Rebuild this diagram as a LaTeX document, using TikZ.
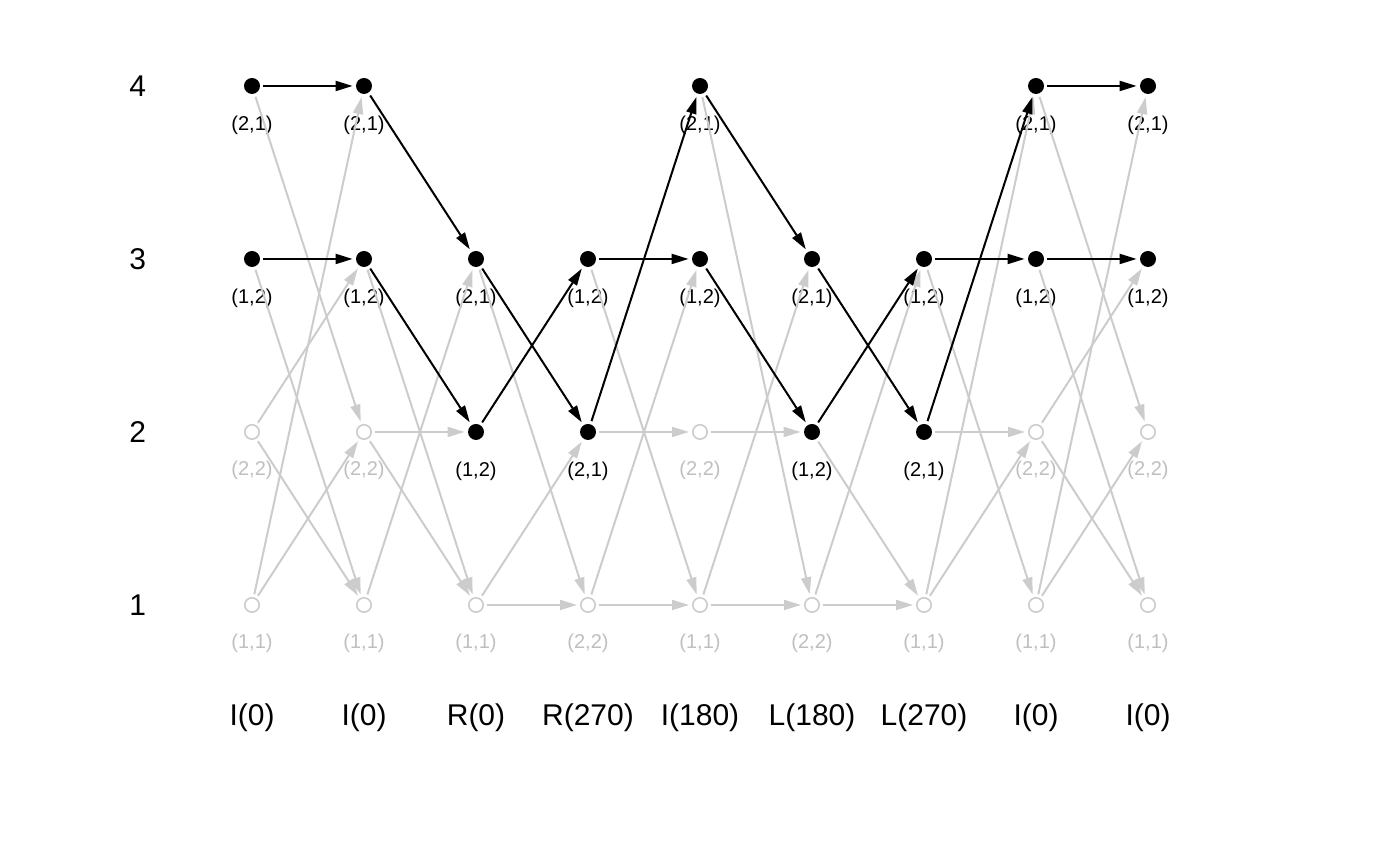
\documentclass[tikz,border=0pt]{standalone}
\usepackage{fontspec}
\setmainfont{Liberation Sans}
\usetikzlibrary{arrows.meta}

\begin{document}
\begin{tikzpicture}[x=56pt, y=86.5pt, >={Triangle[length=8.5pt,width=5pt]},
    on/.style={circle, fill=black, inner sep=0pt, minimum size=8pt,
      label={[lbl]below:{#1}}},
    off/.style={circle, draw=black!20, line width=0.8pt, inner sep=0pt, minimum size=7.2pt,
      label={[lbl, black!25]below:{#1}}},
    lbl/.style={font=\fontsize{10}{12}\selectfont, inner sep=0pt, label distance=10.5pt},
    big/.style={font=\fontsize{15}{18}\selectfont},
    aktiv/.style={->, line width=1pt, shorten <=1.5pt, shorten >=1.5pt},
    passiv/.style={->, black!20, line width=1pt, shorten <=1.5pt, shorten >=1.5pt}]
\useasboundingbox (-1.25,-0.5087) rectangle (11.25,4.497);
% Zeilen
\node[big] (y4) at (-0.02,4) {4};
\node[big] (y3) at (-0.02,3) {3};
\node[big] (y2) at (-0.02,2) {2};
\node[big] (y1) at (-0.02,1) {1};
% Spalte 1: I(0)
\node[on={(2,1)}] (c1r4) at (1,4) {};
\node[on={(1,2)}] (c1r3) at (1,3) {};
\node[off={(2,2)}] (c1r2) at (1,2) {};
\node[off={(1,1)}] (c1r1) at (1,1) {};
% Spalte 2: I(0)
\node[on={(2,1)}] (c2r4) at (2,4) {};
\node[on={(1,2)}] (c2r3) at (2,3) {};
\node[off={(2,2)}] (c2r2) at (2,2) {};
\node[off={(1,1)}] (c2r1) at (2,1) {};
% Spalte 3: R(0)
\node[on={(2,1)}] (c3r3) at (3,3) {};
\node[on={(1,2)}] (c3r2) at (3,2) {};
\node[off={(1,1)}] (c3r1) at (3,1) {};
% Spalte 4: R(270)
\node[on={(1,2)}] (c4r3) at (4,3) {};
\node[on={(2,1)}] (c4r2) at (4,2) {};
\node[off={(2,2)}] (c4r1) at (4,1) {};
% Spalte 5: I(180)
\node[on={(2,1)}] (c5r4) at (5,4) {};
\node[on={(1,2)}] (c5r3) at (5,3) {};
\node[off={(2,2)}] (c5r2) at (5,2) {};
\node[off={(1,1)}] (c5r1) at (5,1) {};
% Spalte 6: L(180)
\node[on={(2,1)}] (c6r3) at (6,3) {};
\node[on={(1,2)}] (c6r2) at (6,2) {};
\node[off={(2,2)}] (c6r1) at (6,1) {};
% Spalte 7: L(270)
\node[on={(1,2)}] (c7r3) at (7,3) {};
\node[on={(2,1)}] (c7r2) at (7,2) {};
\node[off={(1,1)}] (c7r1) at (7,1) {};
% Spalte 8: I(0)
\node[on={(2,1)}] (c8r4) at (8,4) {};
\node[on={(1,2)}] (c8r3) at (8,3) {};
\node[off={(2,2)}] (c8r2) at (8,2) {};
\node[off={(1,1)}] (c8r1) at (8,1) {};
% Spalte 9: I(0)
\node[on={(2,1)}] (c9r4) at (9,4) {};
\node[on={(1,2)}] (c9r3) at (9,3) {};
\node[off={(2,2)}] (c9r2) at (9,2) {};
\node[off={(1,1)}] (c9r1) at (9,1) {};
% Operationen
\node[big] (t1) at (1,0.35) {I(0)};
\node[big] (t2) at (2,0.35) {I(0)};
\node[big] (t3) at (3,0.35) {R(0)};
\node[big] (t4) at (4,0.35) {R(270)};
\node[big] (t5) at (5,0.35) {I(180)};
\node[big] (t6) at (6,0.35) {L(180)};
\node[big] (t7) at (7,0.35) {L(270)};
\node[big] (t8) at (8,0.35) {I(0)};
\node[big] (t9) at (9,0.35) {I(0)};
% moegliche Uebergaenge (grau)
\foreach \a/\b in {c1r4/c2r2, c1r3/c2r1, c1r2/c2r3, c1r2/c2r1, c1r1/c2r4, c1r1/c2r2,
    c2r2/c3r2, c2r3/c3r1, c2r2/c3r1, c2r1/c3r3,
    c3r3/c4r1, c3r1/c4r2, c3r1/c4r1,
    c4r2/c5r2, c4r3/c5r1, c4r1/c5r3, c4r1/c5r1,
    c5r4/c6r1, c5r2/c6r2, c5r1/c6r3, c5r1/c6r1,
    c6r2/c7r1, c6r1/c7r3, c6r1/c7r1,
    c7r2/c8r2, c7r3/c8r1, c7r1/c8r4, c7r1/c8r2,
    c8r4/c9r2, c8r3/c9r1, c8r2/c9r3, c8r2/c9r1, c8r1/c9r4, c8r1/c9r2}
  \draw[passiv] (\a) -- (\b);
% aktive Pfade (schwarz)
\foreach \a/\b in {c1r4/c2r4, c1r3/c2r3, c2r4/c3r3, c2r3/c3r2,
    c3r3/c4r2, c3r2/c4r3, c4r3/c5r3, c4r2/c5r4,
    c5r4/c6r3, c5r3/c6r2, c6r3/c7r2, c6r2/c7r3,
    c7r3/c8r3, c7r2/c8r4, c8r4/c9r4, c8r3/c9r3}
  \draw[aktiv] (\a) -- (\b);
\end{tikzpicture}
\end{document}
